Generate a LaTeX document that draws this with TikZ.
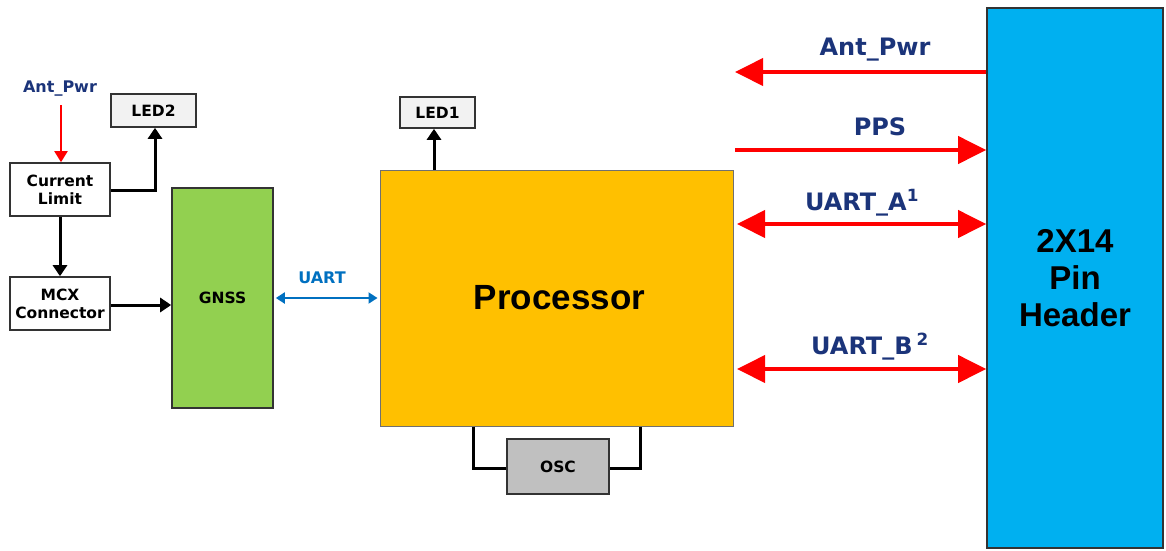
\documentclass[tikz,border=0pt]{standalone}
\usepackage{fontspec}
\setmainfont{DejaVu Sans}
\newfontfamily\arialf{Liberation Sans}
\usetikzlibrary{arrows.meta}
\definecolor{navy}{HTML}{1B347A}
\definecolor{uartblue}{HTML}{0070C0}
\definecolor{gnssgreen}{HTML}{92D050}
\definecolor{procorange}{HTML}{FFC000}
\definecolor{hdrblue}{HTML}{00B0F0}
\definecolor{oscgray}{HTML}{C0C0C0}
\definecolor{ledgray}{HTML}{F2F2F2}
\definecolor{edge}{HTML}{333333}
\tikzset{
  smallbox/.style={draw=edge, line width=1.6pt, fill=white, inner sep=0pt, align=center,
    font=\fontsize{15.5}{18}\selectfont\bfseries},
  ledbox/.style={smallbox, fill=ledgray},
  bigbox/.style={draw=edge, line width=1.6pt, inner sep=0pt, align=center},
  blkarrow/.style={line width=3pt, -{Triangle[length=11pt,width=14pt]}},
  blkline/.style={line width=3pt},
  redbig/.style={draw=red, line width=4pt},
  redhead/.tip={Triangle[length=28pt,width=27pt]},
  navylbl/.style={text=navy, font=\fontsize{24}{28}\selectfont\bfseries, inner sep=0pt},
}
\begin{document}
\begin{tikzpicture}[x=1pt,y=-1pt]
\useasboundingbox (0,0) rectangle (1166,550);
% left column
\node[text=navy, font=\fontsize{16}{18}\selectfont\bfseries, inner sep=0pt] (antl) at (60,89) {Ant\_Pwr};
\node[smallbox, minimum width=100pt, minimum height=53pt] (cl) at (60,189.5) {Current\\Limit};
\node[ledbox, minimum width=85pt, minimum height=33pt] (led2) at (153.5,110.5) {LED2};
\node[smallbox, minimum width=100pt, minimum height=53pt] (mcx) at (60,303.5) {MCX\\Connector};
\node[bigbox, fill=gnssgreen, minimum width=101pt, minimum height=220pt,
  font=\fontsize{15.5}{18}\selectfont\bfseries] (gnss) at (222.5,298) {GNSS};
% processor
\node[draw=edge!70, line width=1pt, fill=procorange, minimum width=353pt, minimum height=256pt,
  inner sep=0pt, font=\arialf\fontsize{35}{40}\selectfont\bfseries] (proc) at (556.5,298) {\hspace*{6pt}Processor};
\node[ledbox, minimum width=75pt, minimum height=31pt] (led1) at (437.5,112.5) {LED1};
\node[smallbox, fill=oscgray, minimum width=102pt, minimum height=55pt] (osc) at (558,466.5) {OSC};
% header
\node[bigbox, fill=hdrblue, minimum width=176pt, minimum height=540pt,
  font=\arialf\fontsize{33}{37}\selectfont\bfseries] (hdr) at (1075,278) {2X14\\Pin\\Header};
% left connections
\coordinate (antstart) at (61,105);
\draw[red, line width=2pt, -{Triangle[length=11pt,width=13pt]}] (antstart) -- (antstart |- cl.north);
\draw[blkarrow] (cl.east |- 0,190) -- (155,190) -- (led2.south -| 155,0);
\draw[blkarrow] (cl.south) -- (mcx.north);
\draw[blkarrow] (mcx.east |- 0,305) -- (gnss.west |- 0,305);
% UART
\draw[uartblue, line width=2pt, {Triangle[length=9pt,width=11pt]}-{Triangle[length=9pt,width=11pt]}]
  ([xshift=2pt]gnss.east) -- ([xshift=-2pt]proc.west);
\node[text=uartblue, font=\fontsize{16}{18}\selectfont\bfseries, inner sep=0pt] (uartl) at (322,278) {UART};
% LED1
\draw[blkarrow] (proc.north -| 434,0) -- (led1.south -| 434,0);
% OSC
\draw[blkline] (proc.south -| 473,0) -- (473,468) -- (osc.west |- 0,468);
\draw[blkline] (proc.south -| 640,0) -- (640,468) -- (osc.east |- 0,468);
% right arrows
\coordinate (a1) at (735,72);
\coordinate (a2) at (735,150);
\coordinate (a3) at (737,224);
\coordinate (a4) at (737,369);
\draw[redbig, -{redhead}] (hdr.west |- a1) -- (a1);
\draw[redbig, -{redhead}] (a2) -- (hdr.west |- a2);
\draw[redbig, {redhead}-{redhead}] (a3) -- (hdr.west |- a3);
\draw[redbig, {redhead}-{redhead}] (a4) -- (hdr.west |- a4);
\node[navylbl] (l1) at (875,50) {Ant\_Pwr};
\node[navylbl] (l2) at (880,127) {PPS};
\node[navylbl] (l3) at (862,203) {UART\_A\textsuperscript{1}};
\node[navylbl] (l4) at (870,347) {UART\_B\,\textsuperscript{2}};
\end{tikzpicture}
\end{document}
